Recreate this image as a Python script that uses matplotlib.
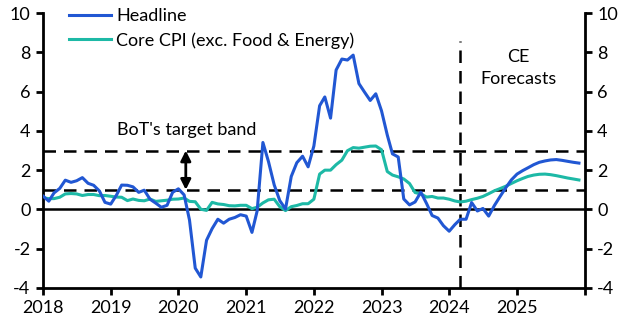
import numpy as np
import pandas as pd
import matplotlib
matplotlib.use("Agg")
import matplotlib.pyplot as plt

plt.rcParams['font.family'] = ['Lato', 'DejaVu Sans']

# Thailand CPI inflation, % y/y, monthly Jan 2018 - Dec 2025 (forecasts from Mar 2024)
dates = pd.date_range("2018-01-01", periods=96, freq="MS")

headline = [
    0.68, 0.42, 0.84, 1.07, 1.49, 1.38, 1.46, 1.62, 1.33, 1.23, 0.94, 0.36,
    0.27, 0.73, 1.24, 1.23, 1.15, 0.87, 0.98, 0.52, 0.32, 0.11, 0.21, 0.87,
    1.05, 0.74, -0.54, -2.99, -3.44, -1.57, -0.98, -0.50, -0.70, -0.50, -0.41, -0.27,
    -0.34, -1.17, -0.08, 3.41, 2.44, 1.25, 0.45, 0.02, 1.68, 2.38, 2.71, 2.17,
    3.23, 5.28, 5.73, 4.65, 7.10, 7.66, 7.61, 7.86, 6.41, 5.98, 5.55, 5.89,
    5.02, 3.79, 2.83, 2.67, 0.53, 0.23, 0.38, 0.88, 0.30, -0.31, -0.44, -0.83,
    -1.11, -0.77, -0.50, -0.50, 0.35, -0.08, 0.05, -0.34, 0.20, 0.65, 1.10, 1.50,
    1.80, 1.98, 2.12, 2.28, 2.40, 2.47, 2.52, 2.54, 2.50, 2.45, 2.40, 2.36,
]

core = [
    0.59, 0.55, 0.55, 0.62, 0.79, 0.81, 0.79, 0.71, 0.76, 0.76, 0.70, 0.71,
    0.67, 0.63, 0.62, 0.45, 0.53, 0.46, 0.44, 0.53, 0.41, 0.44, 0.47, 0.52,
    0.53, 0.58, 0.41, 0.39, 0.01, -0.05, 0.36, 0.28, 0.25, 0.19, 0.18, 0.21,
    0.21, 0.04, 0.11, 0.33, 0.49, 0.52, 0.14, -0.06, 0.14, 0.20, 0.29, 0.29,
    0.52, 1.80, 2.00, 2.00, 2.28, 2.51, 2.99, 3.15, 3.12, 3.17, 3.22, 3.23,
    3.04, 1.93, 1.75, 1.66, 1.55, 1.32, 0.86, 0.79, 0.63, 0.66, 0.58, 0.58,
    0.52, 0.43, 0.38, 0.42, 0.50, 0.57, 0.66, 0.80, 0.95, 1.06, 1.18, 1.32,
    1.46, 1.58, 1.68, 1.75, 1.79, 1.80, 1.77, 1.72, 1.66, 1.60, 1.55, 1.50,
]

band = [1, 3]
forecast_start = pd.Timestamp("2024-02-28")
year_ticks = pd.date_range("2018-01-01", "2026-01-01", freq="YS")
year_labels = [str(d.year) for d in year_ticks[:-1]] + [""]
y_ticks = np.arange(-4, 11, 2)

blue = "#2157D3"
teal = "#1DB9A6"
fs = 13

fig = plt.figure(figsize=(6.24, 3.36), dpi=100)
ax = fig.add_axes([0.069, 0.143, 0.868, 0.818])

dash = (0, (5, 3.2))
for lvl in band:
    ax.axhline(lvl, color="black", lw=1.8, ls=dash, zorder=1)
ax.axhline(0, color="black", lw=1.8, zorder=1)
ax.plot([forecast_start, forecast_start], [-4, 8.6], color="black", lw=1.8,
        ls=dash, zorder=1)

ax.plot(dates, headline, color=blue, lw=2.2, label="Headline", zorder=3)
ax.plot(dates, core, color=teal, lw=2.2, label="Core CPI (exc. Food & Energy)", zorder=2)

# arrow marking the target band
arrow_x = pd.Timestamp("2020-02-10")
ax.annotate("", xy=(arrow_x, band[1]), xytext=(arrow_x, band[0]),
            arrowprops=dict(arrowstyle="<|-|>", color="black", lw=2,
                            mutation_scale=15, shrinkA=0, shrinkB=0))
ax.text(pd.Timestamp("2020-02-15"), 4.05, "BoT's target band", ha="center", va="center",
        fontsize=fs)
ax.text(pd.Timestamp("2025-01-10"), 7.2, "CE\nForecasts", ha="center", va="center",
        fontsize=fs, linespacing=1.45)

ax.set_xlim(year_ticks[0], year_ticks[-1])
ax.set_ylim(-4, 10)
ax.set_xticks(year_ticks)
ax.set_xticklabels(year_labels)
ax.set_yticks(y_ticks)
ax.set_yticklabels([str(v) for v in y_ticks])

ax.spines["top"].set_visible(False)
for side in ["left", "right", "bottom"]:
    ax.spines[side].set_linewidth(2)
ax.tick_params(axis="both", direction="out", length=5, width=2, labelsize=fs)
ax.tick_params(axis="y", right=True, labelright=True, pad=4)

ax.legend(loc="upper left", bbox_to_anchor=(0.035, 1.045), frameon=False, fontsize=fs,
          handlelength=2.3, handletextpad=0.3, labelspacing=0.45, borderaxespad=0)

fig.savefig("out.png", dpi=100)
